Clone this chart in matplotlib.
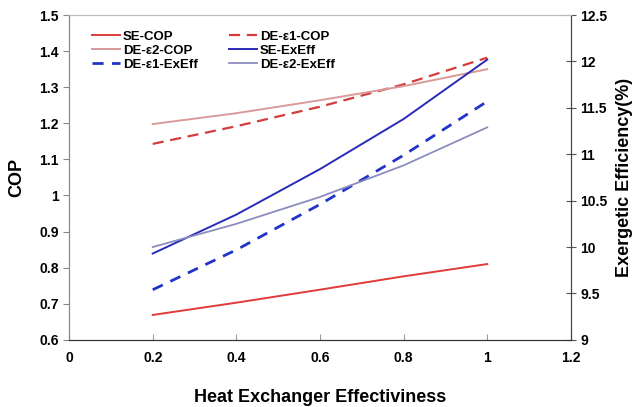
import matplotlib
matplotlib.use("Agg")
import matplotlib.pyplot as plt

plt.rcParams["font.family"] = ["Liberation Sans", "DejaVu Sans"]
plt.rcParams["font.weight"] = "bold"

effectiveness = [0.2, 0.4, 0.6, 0.8, 1.0]

# COP (left axis)
se_cop = [0.669, 0.703, 0.739, 0.776, 0.810]
de_e1_cop = [1.143, 1.192, 1.246, 1.308, 1.382]
de_e2_cop = [1.198, 1.228, 1.264, 1.303, 1.350]

# exergetic efficiency in % (right axis)
se_exeff = [9.93, 10.35, 10.84, 11.38, 12.02]
de_e1_exeff = [9.54, 9.97, 10.46, 10.99, 11.57]
de_e2_exeff = [10.00, 10.25, 10.54, 10.88, 11.29]

x_ticks = [0, 0.2, 0.4, 0.6, 0.8, 1, 1.2]
cop_ticks = [0.6, 0.7, 0.8, 0.9, 1, 1.1, 1.2, 1.3, 1.4, 1.5]
ex_ticks = [9, 9.5, 10, 10.5, 11, 11.5, 12, 12.5]

RED, RED_D, PINK = "#e03a3a", "#d43c3c", "#d89a9a"
BLUE, BLUE_D, LAV = "#2a2ab8", "#2233c8", "#8c8cc0"

fig = plt.figure(figsize=(6.4, 4.07), dpi=100)
ax = fig.add_axes([0.108, 0.165, 0.784, 0.798])
ax2 = ax.twinx()

h1, = ax.plot(effectiveness, se_cop, color=RED, lw=1.4, label="SE-COP")
h2, = ax.plot(effectiveness, de_e1_cop, color=RED_D, lw=1.6, ls=(0, (5, 3)), label="DE-\u03b51-COP")
h3, = ax.plot(effectiveness, de_e2_cop, color=PINK, lw=1.4, label="DE-\u03b52-COP")
h4, = ax2.plot(effectiveness, se_exeff, color=BLUE, lw=1.4, label="SE-ExEff")
h5, = ax2.plot(effectiveness, de_e1_exeff, color=BLUE_D, lw=2.0, ls=(0, (4, 3)), label="DE-\u03b51-ExEff")
h6, = ax2.plot(effectiveness, de_e2_exeff, color=LAV, lw=1.3, label="DE-\u03b52-ExEff")

ax.set_xlim(0, 1.2)
ax.set_ylim(0.6, 1.5)
ax2.set_ylim(9, 12.5)
ax.set_xticks(x_ticks)
ax.set_xticklabels([f"{t:g}" for t in x_ticks])
ax.set_yticks(cop_ticks)
ax.set_yticklabels([f"{t:g}" for t in cop_ticks])
ax2.set_yticks(ex_ticks)
ax2.set_yticklabels([f"{t:g}" for t in ex_ticks])

ax.tick_params(axis="x", direction="in", length=4, labelsize=10, pad=8, color="#999999")
ax.tick_params(axis="y", direction="out", length=4, labelsize=10, color="#888888")
ax2.tick_params(axis="y", direction="inout", length=7, labelsize=10, color="#555555")

for a in (ax, ax2):
    a.spines["top"].set_color("#bbbbbb")
    a.spines["left"].set_color("#888888")
    a.spines["bottom"].set_color("#333333")
    a.spines["right"].set_color("#444444")

ax.set_xlabel("Heat Exchanger Effectiviness", fontsize=13, fontweight="bold", labelpad=17)
ax.set_ylabel("COP", fontsize=13, fontweight="bold", labelpad=10)
ax2.set_ylabel("Exergetic Efficiency(%)", fontsize=13, fontweight="bold", labelpad=6)

# row-major order: matplotlib fills legend columns first
ax2.legend(handles=[h1, h3, h5, h2, h4, h6], ncol=2, frameon=False, loc="upper left",
           bbox_to_anchor=(0.035, 0.969), borderaxespad=0, fontsize=9.5,
           handlelength=2.1, labelspacing=0.13, columnspacing=2.35, handletextpad=0.25)

fig.savefig("out.png", dpi=100)
